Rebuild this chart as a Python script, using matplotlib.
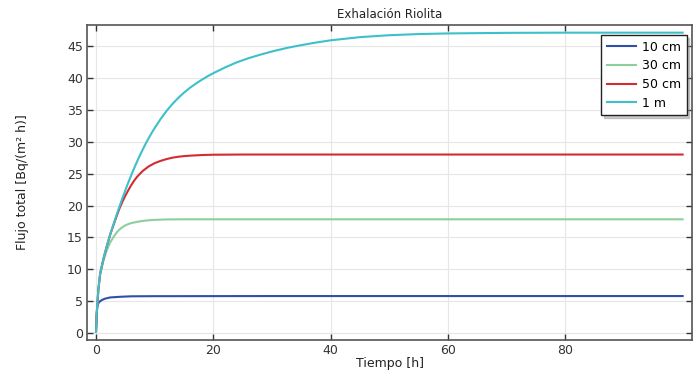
import matplotlib
matplotlib.use("Agg")
import matplotlib.pyplot as plt

# datos (t en h, flujo en Bq/(m2 h))
t_10cm = [0, 0.1, 0.15, 0.2, 0.3, 0.4, 0.55, 0.7, 1.0, 1.5, 2.4, 4, 6, 10,
          30, 100]
f_10cm = [0.2, 2.5, 3.4, 4.0, 4.45, 4.7, 4.9, 5.0, 5.2, 5.4, 5.6, 5.7, 5.78,
          5.8, 5.82, 5.82]

t_30cm = [0, 0.1, 0.2, 0.4, 0.7, 1.25, 1.8, 2.4, 3.0, 3.5, 4.0, 4.5, 5.0,
          5.5, 6.0, 7, 8, 9, 10, 12, 15, 100]
f_30cm = [0.2, 2.5, 4.2, 6.7, 9.2, 11.3, 12.9, 14.2, 15.1, 15.75, 16.25,
          16.62, 16.9, 17.1, 17.25, 17.45, 17.6, 17.7, 17.76, 17.83, 17.85,
          17.85]

t_50cm = [0, 0.1, 0.2, 0.4, 0.7, 1.25, 1.8, 2.4, 3.0, 3.5, 4.0, 4.5, 5.0,
          5.5, 6.0, 6.5, 7.0, 7.5, 8, 9, 10, 11, 12, 13, 14, 15, 16, 18, 20,
          25, 100]
f_50cm = [0.2, 2.5, 4.2, 6.8, 9.3, 11.6, 13.5, 15.4, 17.0, 18.3, 19.55, 20.6,
          21.55, 22.4, 23.2, 23.9, 24.5, 25.0, 25.45, 26.15, 26.65, 27.0,
          27.28, 27.5, 27.65, 27.75, 27.82, 27.92, 27.97, 28.0, 28.0]

t_1m = [0, 0.1, 0.2, 0.4, 0.7, 1.25, 1.8, 2.4, 3.0, 3.5, 4.0, 4.5, 5.0, 5.5,
        6.0, 6.5, 7.0, 7.5, 8.0, 8.5, 9.0, 9.5, 10, 11, 12, 13, 14, 15, 16,
        17, 18, 19, 20, 22, 24, 26, 28, 30, 32.5, 35, 37.5, 40, 45, 50, 55,
        60, 70, 80, 100]
f_1m = [0.2, 2.5, 4.2, 6.8, 9.3, 11.6, 13.5, 15.4, 17.1, 18.5, 19.85, 21.15,
        22.4, 23.6, 24.75, 25.85, 26.9, 27.9, 28.85, 29.75, 30.6, 31.4, 32.15,
        33.55, 34.8, 35.9, 36.85, 37.7, 38.45, 39.1, 39.7, 40.25, 40.75,
        41.65, 42.45, 43.1, 43.65, 44.15, 44.7, 45.15, 45.55, 45.9, 46.4,
        46.7, 46.88, 46.98, 47.07, 47.1, 47.1]

series = [
    ("10 cm", t_10cm, f_10cm, "#2f4fa8"),
    ("30 cm", t_30cm, f_30cm, "#8ccf9c"),
    ("50 cm", t_50cm, f_50cm, "#d22b33"),
    ("1 m", t_1m, f_1m, "#3cc0ca"),
]

plt.rcParams["font.family"] = "DejaVu Sans"
plt.rcParams["font.size"] = 9

fig = plt.figure(figsize=(6.99, 3.76), dpi=100)
ax = fig.add_axes([0.1245, 0.0957, 0.8655, 0.8378])

for label, t, f, color in series:
    ax.plot(t, f, color=color, linewidth=1.5, label=label)

ax.set_xlim(-1.53, 101.6)
ax.set_ylim(-1.07, 48.3)
ax.set_xticks([0, 20, 40, 60, 80])
ax.set_yticks(range(0, 50, 5))
ax.grid(True, color="#e6e6e6", linewidth=0.8)
ax.set_axisbelow(True)

ax.tick_params(direction="in", length=4, width=1, colors="#333333",
               top=True, right=True, labelsize=9, pad=3)
for sp in ax.spines.values():
    sp.set_color("#555555")
    sp.set_linewidth(1.2)

ax.set_title("Exhalación Riolita", fontsize=8.5, pad=5, color="#222222")
ax.set_xlabel("Tiempo [h]", fontsize=9, labelpad=0, color="#222222")
ax.set_ylabel("Flujo total [Bq/(m² h)]", fontsize=9, labelpad=27,
              color="#222222")

leg = ax.legend(loc="upper right", bbox_to_anchor=(0.991, 0.968),
                borderaxespad=0, fancybox=False,
                shadow={"color": "#999999", "alpha": 0.5},
                edgecolor="#222222", framealpha=1, fontsize=9,
                handlelength=2.3, handletextpad=0.5, labelspacing=0.45,
                borderpad=0.45)
leg.get_frame().set_linewidth(1.0)

fig.savefig("out.png", dpi=100)
